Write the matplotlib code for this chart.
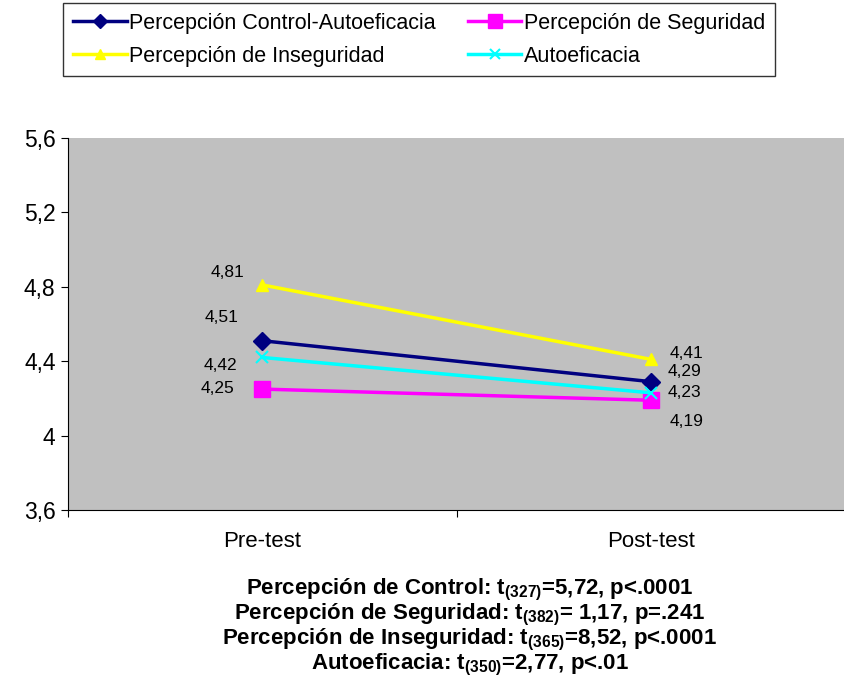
import matplotlib.pyplot as plt
from matplotlib.ticker import FixedLocator, FuncFormatter

plt.rcParams['font.family'] = ['Liberation Sans', 'DejaVu Sans']
plt.rcParams['mathtext.fontset'] = 'custom'
plt.rcParams['mathtext.rm'] = 'Liberation Sans'
plt.rcParams['mathtext.bf'] = 'Liberation Sans:bold'
plt.rcParams['mathtext.default'] = 'bf'

# Datos
momentos = ['Pre-test', 'Post-test']
series = ['Percepción Control-Autoeficacia', 'Percepción de Seguridad',
          'Percepción de Inseguridad', 'Autoeficacia']
control = [4.51, 4.29]
seguridad = [4.25, 4.19]
inseguridad = [4.81, 4.41]
autoeficacia = [4.42, 4.23]
pruebas = ['Percepción de Control: t$_{(327)}$=5,72, p<.0001',
           'Percepción de Seguridad: t$_{(382)}$= 1,17, p=.241',
           'Percepción de Inseguridad: t$_{(365)}$=8,52, p<.0001',
           'Autoeficacia: t$_{(350)}$=2,77, p<.01']

fig = plt.figure(figsize=(8.45, 6.99), dpi=100)
ax = fig.add_axes([0.0805, 0.2704, 0.9195, 0.5322])
ax.set_facecolor('#C0C0C0')

x = list(range(len(momentos)))
estilos = [
    (control, '#000080', 'D', 9),
    (seguridad, '#FF00FF', 's', 12),
    (inseguridad, '#FFFF00', '^', 9),
    (autoeficacia, '#00FFFF', 'x', 9),
]
lineas = []
for (vals, color, marker, ms), nombre in zip(estilos, series):
    l, = ax.plot(x, vals, color=color, marker=marker, markersize=ms, lw=2.5,
                 markeredgewidth=1.5 if marker == 'x' else 1, label=nombre)
    lineas.append(l)

# Etiquetas de datos (desplazamiento en puntos)
offs_pre = [(-29, 16.5), (-32, 0.5), (-25, 9), (-30, -5.5)]
offs_post = [(24, 7), (26, -15.5), (26, 4.5), (24, 0)]
for vals, op, opost in zip([control, seguridad, inseguridad, autoeficacia],
                           offs_pre, offs_post):
    ax.annotate(f'{vals[0]:.2f}'.replace('.', ','), (0, vals[0]), xytext=op,
                textcoords='offset points', ha='center', va='center', fontsize=12.5)
    ax.annotate(f'{vals[1]:.2f}'.replace('.', ','), (1, vals[1]), xytext=opost,
                textcoords='offset points', ha='center', va='center', fontsize=12.5)

ax.set_xlim(-0.5, 1.5)
ax.set_ylim(3.6, 5.6)
ax.yaxis.set_major_locator(FixedLocator([3.6, 4.0, 4.4, 4.8, 5.2, 5.6]))
ax.yaxis.set_major_formatter(FuncFormatter(lambda v, p: f'{v:g}'.replace('.', ',')))
ax.set_xticks([-0.5, 0.5, 1.5])
ax.set_xticklabels([])
ax.set_xticks(x, minor=True)
ax.set_xticklabels(momentos, minor=True, fontsize=16)
ax.tick_params(axis='x', which='minor', length=0, pad=15)
ax.tick_params(axis='x', which='major', length=5, direction='out')
ax.tick_params(axis='y', length=5, labelsize=16.5, pad=4)
ax.spines['top'].set_visible(False)
ax.spines['right'].set_visible(False)

# orden por filas como en la leyenda original
orden = [lineas[0], lineas[2], lineas[1], lineas[3]]
leg = fig.legend(handles=orden, labels=[l.get_label() for l in orden],
                 loc='upper left', bbox_to_anchor=(0.0746, 0.9957),
                 borderaxespad=0, ncol=2, fontsize=15.5, frameon=True,
                 fancybox=False, edgecolor='black', handlelength=2.5,
                 handletextpad=0.1, columnspacing=1.5, borderpad=0.45,
                 labelspacing=0.55, markerscale=0.8)
leg.get_frame().set_linewidth(1.0)

for i, t in enumerate(pruebas):
    fig.text(0.556, 0.156 - i * 0.0358, t, ha='center', va='center',
             fontsize=16, fontweight='bold')

fig.savefig('out.png', dpi=100)
